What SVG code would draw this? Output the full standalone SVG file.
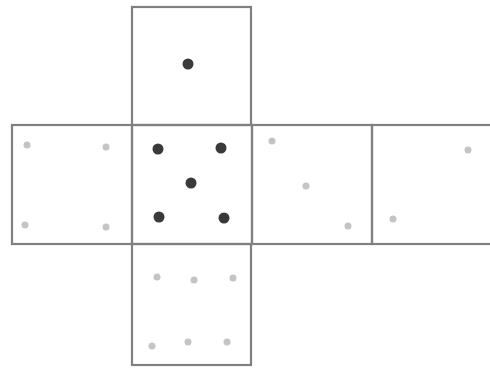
<svg xmlns="http://www.w3.org/2000/svg" width="490" height="368" viewBox="0 0 490 368">
<style>
.face{fill:none;stroke:#808080;stroke-width:2.2}
.pip{fill:#3a3a3a}
.faint{fill:#c4c4c4}
</style>
<rect width="490" height="368" fill="#fff"/>
<g id="face-top">
<rect class="face" x="132" y="7" width="119" height="118"/>
<circle class="pip" cx="188" cy="64" r="5.5"/>
</g>
<g id="face-left">
<rect class="face" x="12" y="125" width="120" height="119"/>
<circle class="faint" cx="27" cy="145" r="3.5"/>
<circle class="faint" cx="106" cy="147" r="3.5"/>
<circle class="faint" cx="25" cy="225" r="3.5"/>
<circle class="faint" cx="106" cy="227" r="3.5"/>
</g>
<g id="face-center">
<rect class="face" x="132" y="125" width="120" height="119"/>
<circle class="pip" cx="158" cy="149" r="5.5"/>
<circle class="pip" cx="221" cy="148" r="5.5"/>
<circle class="pip" cx="191" cy="183" r="5.5"/>
<circle class="pip" cx="159" cy="217" r="5.5"/>
<circle class="pip" cx="224" cy="218" r="5.5"/>
</g>
<g id="face-right">
<rect class="face" x="252" y="125" width="120" height="119"/>
<circle class="faint" cx="272" cy="141" r="3.5"/>
<circle class="faint" cx="306" cy="186" r="3.5"/>
<circle class="faint" cx="348" cy="226" r="3.5"/>
</g>
<g id="face-far-right">
<rect class="face" x="372" y="125" width="125" height="119"/>
<circle class="faint" cx="468" cy="150" r="3.5"/>
<circle class="faint" cx="393" cy="219" r="3.5"/>
</g>
<g id="face-bottom">
<rect class="face" x="132" y="244" width="119" height="121"/>
<circle class="faint" cx="157" cy="277" r="3.5"/>
<circle class="faint" cx="194" cy="280" r="3.5"/>
<circle class="faint" cx="233" cy="278" r="3.5"/>
<circle class="faint" cx="152" cy="346" r="3.5"/>
<circle class="faint" cx="188" cy="342" r="3.5"/>
<circle class="faint" cx="227" cy="342" r="3.5"/>
</g>
<g id="connectors"></g>
</svg>
